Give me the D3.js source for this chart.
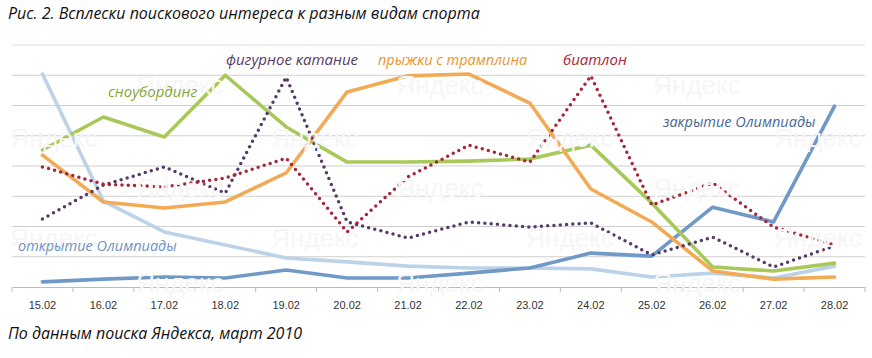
<!DOCTYPE html>
<html>
<head>
<meta charset="utf-8">
<script src="https://cdn.jsdelivr.net/npm/d3@7"></script>
<style>
  body{margin:0;background:#fff;}
  svg{display:block;}
  .tick text{font-family:'Liberation Sans',Arial,sans-serif;font-size:11px;fill:#333;}
  .lbl{font-family:'Open Sans','Noto Sans',sans-serif;font-style:italic;font-size:15px;}
</style>
</head>
<body>
<div class="chart"></div>
<script>
//дни
const days = ['15.02','16.02','17.02','18.02','19.02','20.02','21.02','22.02','23.02','24.02','25.02','26.02','27.02','28.02'];

//значения (условные единицы, 0..8)
const openingVals  = [7.04,2.84,1.82,1.39,0.96,0.83,0.69,0.63,0.63,0.6,0.33,0.46,0.3,0.69];
const closingVals  = [0.17,0.26,0.33,0.3,0.56,0.3,0.3,0.46,0.63,1.12,1.02,2.64,2.15,5.98];
const snowboardVals = [4.53,5.62,4.96,7.0,5.29,4.13,4.13,4.16,4.23,4.69,2.78,0.66,0.53,0.79];
const jumpingVals  = [4.36,2.81,2.61,2.81,3.77,6.45,6.98,7.04,6.08,3.24,2.15,0.53,0.26,0.33];
const skatingVals  = [2.25,3.37,3.97,3.1,6.94,2.15,1.62,2.15,1.98,2.12,1.06,1.65,0.66,1.36];
const biathlonVals = [3.97,3.4,3.31,3.6,4.26,1.82,3.64,4.69,4.13,6.98,2.71,3.44,1.98,1.39];

const gridVals = [1,2,3,4,5,6,7,8];

const series = [
  {name:'открытие Олимпиады', values:openingVals,  color:'#bcd2e8', dotted:false, lx:18,  ly:251, fs:14.5, lcolor:'#6f93c0'},
  {name:'закрытие Олимпиады', values:closingVals,  color:'#7099c8', dotted:false, lx:663, ly:127, fs:14.5, lcolor:'#46689a'},
  {name:'сноубординг',        values:snowboardVals,color:'#a8c95a', dotted:false, lx:108, ly:97,  fs:15, lcolor:'#86a83a'},
  {name:'прыжки с трамплина', values:jumpingVals,  color:'#f2aa55', dotted:false, lx:378, ly:65,  fs:14.5, lcolor:'#e8962e'},
  {name:'фигурное катание',   values:skatingVals,  color:'#553a6a', dotted:true,  lx:226, ly:65,  fs:15, lcolor:'#553a6a'},
  {name:'биатлон',            values:biathlonVals, color:'#a82639', dotted:true,  lx:563, ly:65,  fs:15, lcolor:'#a82639'}
];

const svg_width = 872;
const svg_height = 358;
const margin = {left:12, right:7, top:45, bottom:71};
const chart_width = svg_width - margin.left - margin.right;
const chart_height = svg_height - margin.top - margin.bottom;

const svg = d3.select('.chart').append('svg')
  .attr('width', svg_width).attr('height', svg_height);

//заголовок и источник
svg.append('text').attr('x',8).attr('y',19)
  .attr('class','lbl').style('font-size','16px').style('fill','#111')
  .text('Рис. 2. Всплески поискового интереса к разным видам спорта');
svg.append('text').attr('x',8).attr('y',339)
  .attr('class','lbl').style('font-size','16px').style('fill','#111')
  .text('По данным поиска Яндекса, март 2010');

const g = svg.append('g').attr('transform',`translate(${margin.left},${margin.top})`);

const xBand = d3.scaleBand().domain(days).range([0, chart_width]);
const x = d => xBand(d) + xBand.bandwidth()/2;
const y = d3.scaleLinear().domain([0,8]).range([chart_height,0]);

//сетка
g.append('g').selectAll('line').data(gridVals).join('line')
  .attr('x1',0).attr('x2',chart_width)
  .attr('y1',d=>y(d)).attr('y2',d=>y(d))
  .attr('stroke',d=>d===8?'#dedede':'#cfcfcf').attr('stroke-width',1.2);

//водяные знаки
const marks = [];
[85,188,283].forEach(yy=>[180,440,697].forEach(xx=>marks.push([xx,yy])));
[138,238].forEach(yy=>[54,315,570,818].forEach(xx=>marks.push([xx,yy])));
svg.append('g').selectAll('text').data(marks).join('text')
  .attr('x',d=>d[0]).attr('y',d=>d[1]+9)
  .attr('text-anchor','middle')
  .style('font-family',"'Liberation Sans Narrow','Liberation Sans',sans-serif")
  .style('font-size','26px').style('fill','#f6f6f6')
  .text('Яндекс');

//ось X
const xAxis = d3.axisBottom(xBand).tickSizeInner(0).tickSizeOuter(0).tickPadding(14);
const xAxisDraw = g.append('g').attr('transform',`translate(0,${chart_height})`).call(xAxis);
xAxisDraw.select('.domain').attr('stroke','#bbb').attr('stroke-width',1.2);
xAxisDraw.append('g').selectAll('line').data(d3.range(days.length+1)).join('line')
  .attr('x1',i=>i*xBand.step()).attr('x2',i=>i*xBand.step())
  .attr('y1',0).attr('y2',5).attr('stroke','#bbb');

//линии
const line = d3.line().x((d,i)=>x(days[i])).y(d=>y(d));
g.append('g').selectAll('path').data(series).join('path')
  .attr('d',d=>line(d.values))
  .attr('fill','none')
  .attr('stroke',d=>d.color)
  .attr('stroke-width',d=>d.dotted?3.5:3.6)
  .attr('stroke-linecap','round')
  .attr('stroke-linejoin','round')
  .attr('stroke-dasharray',d=>d.dotted?'0 6.3':null);

//подписи
svg.append('g').selectAll('text').data(series).join('text')
  .attr('class','lbl')
  .attr('x',d=>d.lx).attr('y',d=>d.ly)
  .style('font-size',d=>d.fs+'px')
  .style('fill',d=>d.lcolor)
  .text(d=>d.name);
</script>
</body>
</html>
